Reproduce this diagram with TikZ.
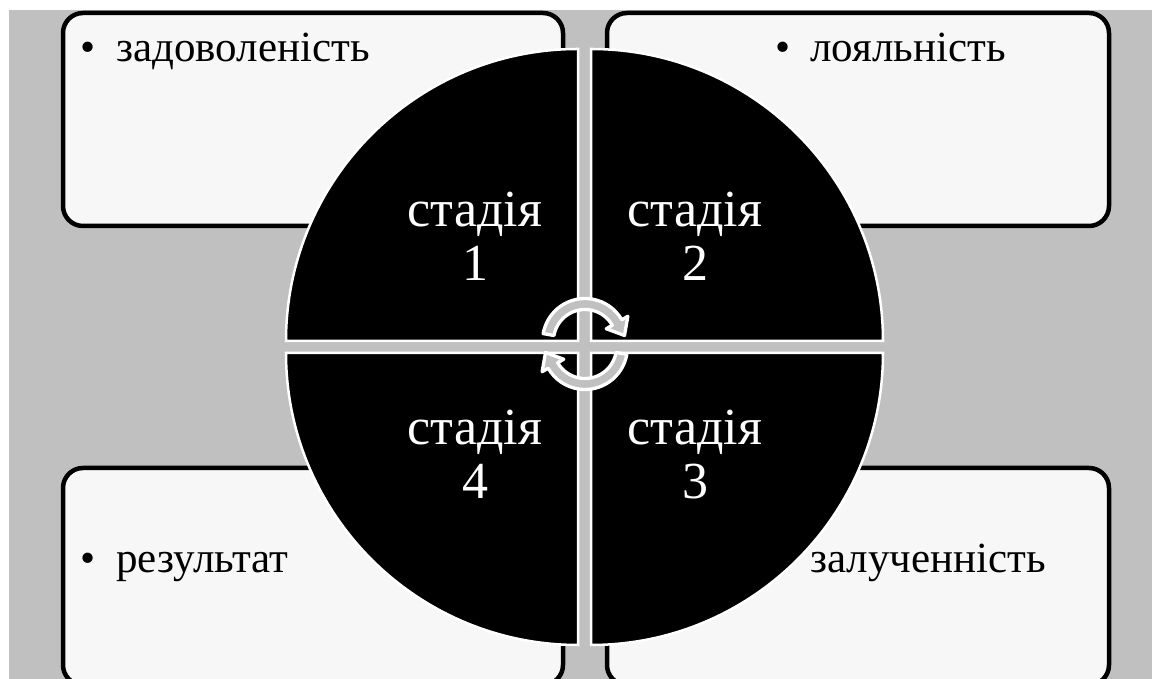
\documentclass[tikz,border=0pt]{standalone}
\usepackage{fontspec}
\setmainfont{Liberation Serif}
\usetikzlibrary{positioning}
\definecolor{bggray}{HTML}{C0C0C0}
\definecolor{boxfill}{HTML}{F7F7F7}

\begin{document}
\begin{tikzpicture}[x=1pt,y=1pt,
  infobox/.style={draw=black, line width=4.5pt, fill=boxfill, rounded corners=20pt},
  quarter/.style={fill=black, draw=white, line width=2.5pt},
  turn/.style={fill=bggray, draw=white, line width=3.3pt, line join=round}]
\useasboundingbox (0,0) rectangle (1152,679);
\clip (0,0) rectangle (1152,679);
\fill[white] (0,0) rectangle (1152,679);
\fill[bggray] (9,0) rectangle (1152,669);

% the four boxes
\draw[infobox] (63,453) rectangle (563,666);
\draw[infobox] (607,453) rectangle (1109,666);
\draw[infobox] (63,-6) rectangle (563,211);
\draw[infobox] (607,-6) rectangle (1109,211);

\begin{scope}[every node/.style={anchor=base west, inner sep=0pt, font=\fontsize{43}{50}\selectfont}]
  \node (sat) at (80,617) {•\hspace{21pt}задоволеність};
  \node (loy) at (775,617) {•\hspace{20pt}лояльність};
  \node (res) at (80,106) {•\hspace{21pt}результат};
  \node (eng) at (773,106) {•\hspace{22pt}залученність};
\end{scope}

% circle in four quarters
\foreach \a/\cx/\cy in {90/578/338, 0/591/338, 270/591/326, 180/578/326}
  \filldraw[quarter] (\cx,\cy) -- ++(\a:292) arc[start angle=\a, delta angle=90, radius=292] -- cycle;

\begin{scope}[every node/.style={anchor=base, inner sep=0pt, text=white, font=\fontsize{52}{56}\selectfont}]
  \node (st1) at (475,452) {стадія};
  \node (nm1) [below=54pt of st1.base, anchor=base] {1};
  \node (st2) at (695,452) {стадія};
  \node (nm2) [below=54pt of st2.base, anchor=base] {2};
  \node (st3) at (695,234) {стадія};
  \node (nm3) [below=54pt of st3.base, anchor=base] {3};
  \node (st4) at (475,234) {стадія};
  \node (nm4) [below=54pt of st4.base, anchor=base] {4};
\end{scope}

% turning arrows
\foreach \a/\cy in {0/338, 180/332}
  \filldraw[turn, shift={(585,\cy)}, rotate=\a] (170:42.5) arc[start angle=170, end angle=30, radius=42.5]
    -- (30:49.5) -- (39.5,5.5) -- (30:24.5) -- (30:31.5)
    arc[start angle=30, end angle=170, radius=31.5] -- cycle;
\end{tikzpicture}
\end{document}
